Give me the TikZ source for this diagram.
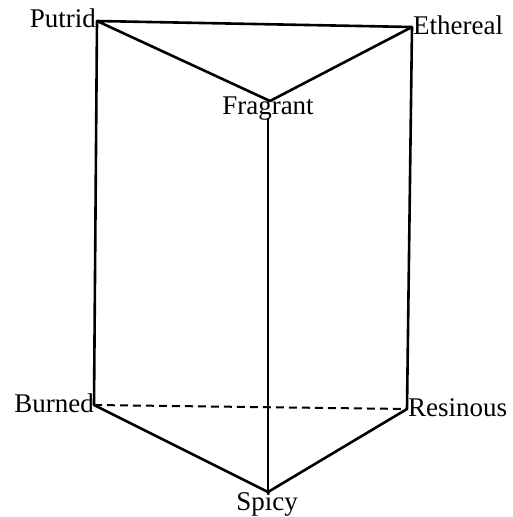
\documentclass[tikz,border=0pt]{standalone}
\usepackage{fontspec}
\setmainfont{Liberation Serif}
\begin{document}
\begin{tikzpicture}[x=1pt,y=-1pt,
  edge/.style={line width=2.6pt,line join=round},
  hidden/.style={line width=2pt,dash pattern=on 8pt off 5pt},
  lbl/.style={inner sep=0pt,font=\fontsize{27}{30}\selectfont}]
\useasboundingbox (0,0) rectangle (512,517);
% vertices
\coordinate (P) at (97,21);
\coordinate (E) at (412,27);
\coordinate (F) at (270,101);
\coordinate (B) at (94,405);
\coordinate (R) at (407,409);
\coordinate (S) at (268,492);
% labels
\node[lbl,anchor=base east] (lp) at (96,27) {Putrid};
\node[lbl,anchor=base west] (le) at (413,34) {Ethereal};
\node[lbl,anchor=base] (lf) at (268,114) {Fragrant};
\node[lbl,anchor=base east] (lb) at (94,412) {Burned};
\node[lbl,anchor=base west] (lr) at (408,416) {Resinous};
\node[lbl,anchor=base] (ls) at (267,510) {Spicy};
\coordinate (Ftop) at (268,118);
% edges
\draw[edge] (P) -- (E) -- (F) -- cycle;
\draw[edge] (P) -- (B) -- (S) -- (R) -- (E);
\draw[edge] (Ftop) -- (S);
\draw[hidden] (B) -- (R);
\end{tikzpicture}
\end{document}
